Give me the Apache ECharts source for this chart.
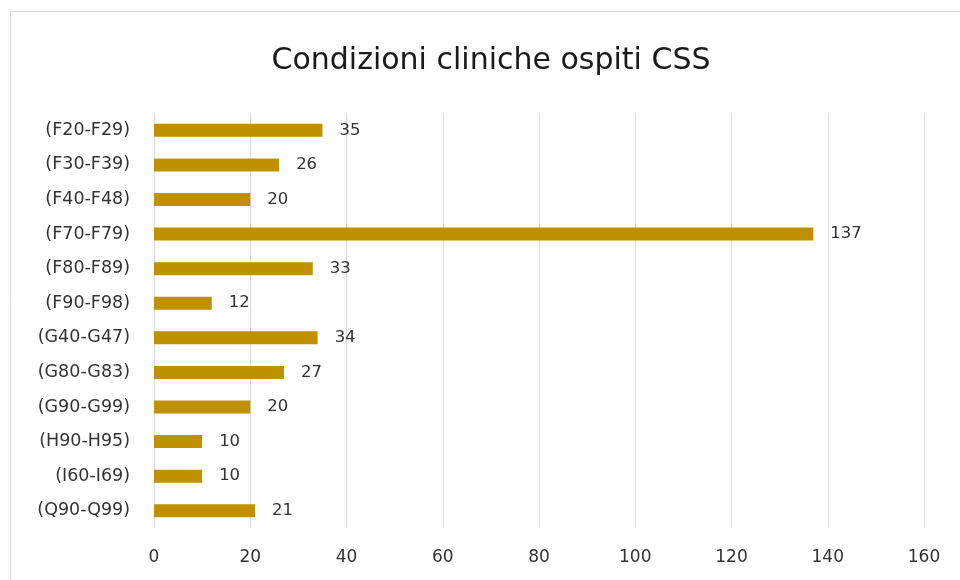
<!DOCTYPE html>
<html>
<head>
<meta charset="utf-8">
<script src="https://cdn.jsdelivr.net/npm/echarts@6/dist/echarts.min.js"></script>
<style>
  html, body { margin: 0; padding: 0; background: #fff; }
  #chart { width: 960px; height: 580px; }
</style>
</head>
<body>
<div id="chart"></div>
<script>
// categorie (dall'alto verso il basso)
var categories = ["(F20-F29)", "(F30-F39)", "(F40-F48)", "(F70-F79)", "(F80-F89)", "(F90-F98)",
  "(G40-G47)", "(G80-G83)", "(G90-G99)", "(H90-H95)", "(I60-I69)", "(Q90-Q99)"];
var values = [35, 26, 20, 137, 33, 12, 34, 27, 20, 10, 10, 21];
var xTicks = [0, 20, 40, 60, 80, 100, 120, 140, 160];

var chart = echarts.init(document.getElementById("chart"));
var font = "'DejaVu Sans', 'Open Sans', sans-serif";

var option = {
  backgroundColor: "#fff",
  animation: false,
  graphic: [{
    type: "rect",
    shape: { x: 10.5, y: 11.5, width: 960, height: 580 },
    style: { fill: "none", stroke: "#d9d9d9", lineWidth: 1 },
    silent: true
  }],
  title: {
    text: "Condizioni cliniche ospiti CSS",
    left: 486,
    textAlign: "center",
    top: 41,
    textStyle: { fontFamily: font, fontSize: 30, fontWeight: "normal", color: "#1a1a1a" }
  },
  grid: { left: 154, right: 36, top: 113, bottom: 52, containLabel: false },
  xAxis: {
    type: "value",
    min: xTicks[0],
    max: xTicks[xTicks.length - 1],
    interval: 20,
    axisLine: { show: false },
    axisTick: { show: false },
    splitLine: { lineStyle: { color: "#d9d9d9", width: 1 } },
    axisLabel: { margin: 21, fontFamily: font, fontSize: 17, color: "#333" }
  },
  yAxis: {
    type: "category",
    inverse: true,
    data: categories,
    axisLine: { show: false },
    axisTick: { show: false },
    axisLabel: { margin: 24, fontFamily: font, fontSize: 17.5, color: "#333" }
  },
  series: [{
    type: "bar",
    data: values,
    barWidth: 13,
    itemStyle: { color: "#BF9000" },
    label: {
      show: true,
      position: "right",
      distance: 17,
      fontFamily: font,
      fontSize: 16.5,
      color: "#333"
    }
  }]
};
chart.setOption(option);
</script>
</body>
</html>
